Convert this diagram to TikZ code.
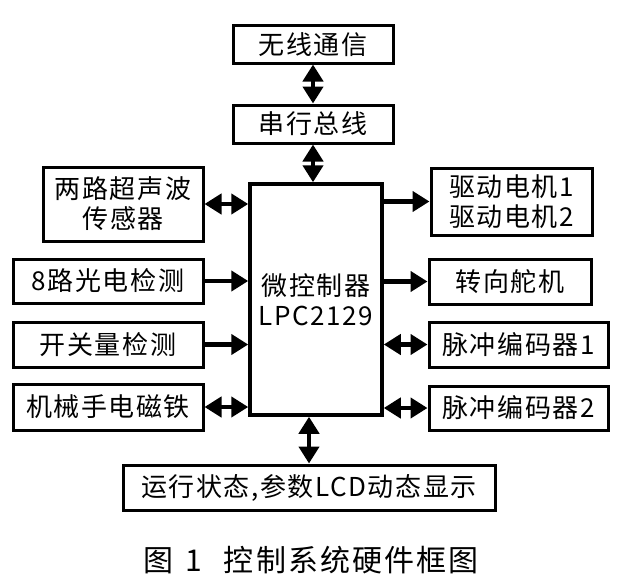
\documentclass[tikz,border=0pt]{standalone}
\usepackage{fontspec}
\setmainfont{Noto Sans CJK SC}
\usepackage{tikz}
\usetikzlibrary{arrows.meta, positioning}

\begin{document}
\begin{tikzpicture}[x=1pt, y=-1pt,
    blk/.style={draw, line width=3pt, inner sep=0pt, align=center,
        font=\fontsize{26}{30}\selectfont\addfontfeature{LetterSpace=6}},
    uni/.style={line width=4.5pt, -{Triangle[length=17pt, width=20pt]}},
    bi/.style={line width=4.5pt, {Triangle[length=17pt, width=20pt]}-{Triangle[length=17pt, width=20pt]}}]
    \useasboundingbox (0,0) rectangle (631,586);

    % top chain
    \node[blk, minimum width=160pt, minimum height=37pt] (wifi) at (313, 44.5) {无线通信};
    \node[blk, minimum width=160pt, minimum height=38pt] (bus) at (313, 124) {串行总线};
    \node[blk, line width=3.5pt, minimum width=132pt, minimum height=231pt] (mcu) at (316, 299.5) {微控制器\\LPC2129};

    % left side
    \node[blk, minimum width=160pt, minimum height=74pt] (sonar) at (123, 204) {两路超声波\\传感器};
    \node[blk, minimum width=190pt, minimum height=44pt] (photo) at (108, 281) {8路光电检测};
    \node[blk, minimum width=190pt, minimum height=45pt] (switch) at (108, 344.5) {开关量检测};
    \node[blk, minimum width=190pt, minimum height=46pt] (magnet) at (108, 407) {机械手电磁铁};

    % right side
    \node[blk, minimum width=161pt, minimum height=67pt] (motor) at (511.5, 201.5) {驱动电机1\\驱动电机2};
    \node[blk, minimum width=162pt, minimum height=45pt] (servo) at (510, 281.5) {转向舵机};
    \node[blk, minimum width=179pt, minimum height=45pt] (enc1) at (518.5, 344.5) {脉冲编码器1};
    \node[blk, minimum width=179pt, minimum height=44pt] (enc2) at (518.5, 408) {脉冲编码器2};

    % bottom
    \node[blk, minimum width=372pt, minimum height=45pt] (lcd) at (309, 487.5) {运行状态,参数LCD动态显示};
    \node[font=\fontsize{30}{34}\selectfont\addfontfeature{LetterSpace=7}] (cap) at (311, 560) {图\hspace{12pt}1\hspace{22pt}控制系统硬件框图};

    \draw[bi] (wifi.south) -- (bus.north);
    \draw[bi] (bus.south) -- (bus.south |- mcu.north);
    \draw[bi] (lcd.north |- mcu.south) -- (lcd.north);

    \draw[bi] (sonar.east) -- (sonar.east -| mcu.west);
    \draw[uni] (photo.east) -- (photo.east -| mcu.west);
    \draw[uni] (switch.east) -- (switch.east -| mcu.west);
    \draw[bi] (magnet.east) -- (magnet.east -| mcu.west);

    \draw[uni] (mcu.east |- motor.west) -- (motor.west);
    \draw[uni] (mcu.east |- servo.west) -- (servo.west);
    \draw[bi] (mcu.east |- enc1.west) -- (enc1.west);
    \draw[bi] (mcu.east |- enc2.west) -- (enc2.west);
\end{tikzpicture}
\end{document}
